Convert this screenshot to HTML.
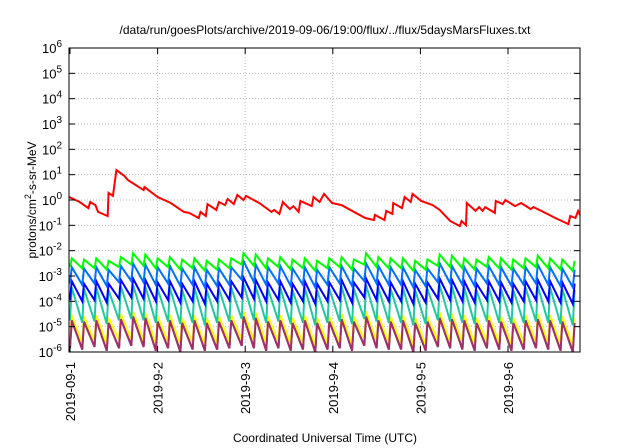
<!DOCTYPE html>
<html><head><meta charset="utf-8"><style>
html,body{margin:0;padding:0;background:#fff}
svg{display:block;font-family:"Liberation Sans",sans-serif}
</style></head><body>
<svg id="chart" width="640" height="448" viewBox="0 0 640 448">
<text x="325" y="34" font-size="12" text-anchor="middle">/data/run/goesPlots/archive/2019-09-06/19:00/flux/../flux/5daysMarsFluxes.txt</text>
<g id="grid"></g>
<g id="series"></g>
<rect x="69" y="48" width="511" height="304" fill="none" stroke="#000" stroke-width="1"/>
<g id="axes"></g>
<text transform="translate(36,200) rotate(-90)" font-size="12" text-anchor="middle">protons/cm<tspan dy="-5" font-size="9">2</tspan><tspan dy="5">-s-sr-MeV</tspan></text>
<text x="325" y="442" font-size="12" text-anchor="middle">Coordinated Universal Time (UTC)</text>
</svg>
<script>
const xTickLabels = ["2019-09-1","2019-9-2","2019-9-3","2019-9-4","2019-9-5","2019-9-6"];
const yTickExps = [6,5,4,3,2,1,0,-1,-2,-3,-4,-5,-6];
// red series: time (days) and log10 flux
const redDays = [-0.01,0.11,0.21,0.23,0.29,0.32,0.43,0.44,0.49,0.53,0.62,0.66,0.84,0.85,1.0,1.15,1.30,1.36,1.47,1.49,1.55,1.57,1.67,1.70,1.77,1.80,1.87,1.91,1.98,2.01,2.16,2.30,2.33,2.39,2.43,2.51,2.55,2.61,2.63,2.76,2.78,2.85,2.90,2.99,3.10,3.37,3.47,3.48,3.59,3.61,3.68,3.69,3.79,3.82,3.89,3.91,4.01,4.14,4.22,4.34,4.45,4.47,4.52,4.53,4.63,4.67,4.71,4.74,4.85,4.86,4.94,4.97,5.08,5.15,5.26,5.29,5.38,5.54,5.69,5.71,5.77,5.80,5.86];
const redLog = [0.12,-0.08,-0.32,-0.08,-0.20,-0.47,-0.63,0.28,0.16,1.18,0.95,0.79,0.39,0.51,0.12,-0.12,-0.47,-0.51,-0.71,-0.47,-0.63,-0.16,-0.39,-0.08,-0.20,0.04,-0.16,0.20,0.0,0.16,-0.12,-0.47,-0.39,-0.55,-0.08,-0.36,-0.24,-0.47,-0.04,-0.24,0.12,-0.08,0.24,-0.12,-0.20,-0.71,-0.79,-0.59,-0.79,-0.43,-0.55,-0.12,-0.32,0.12,-0.08,0.24,-0.04,-0.20,-0.39,-0.83,-1.03,-0.83,-0.99,-0.12,-0.43,-0.28,-0.43,-0.28,-0.51,-0.04,-0.16,0.0,-0.24,-0.12,-0.36,-0.28,-0.43,-0.71,-0.95,-0.63,-0.71,-0.43,-0.59];
// sawtooth series: one tooth every ~0.14 day; peak and trough log10 flux
const toothStep = 0.14;
const greenPeak = [-2.30,-2.35,-2.30,-2.40,-2.25,-2.10,-2.15,-2.30,-2.25,-2.35,-2.30,-2.40,-2.35,-2.30,-2.10,-2.15,-2.30,-2.25,-2.35,-2.30,-2.40,-2.30,-2.25,-2.35,-2.10,-2.25,-2.30,-2.30,-2.40,-2.35,-2.15,-2.20,-2.30,-2.35,-2.25,-2.30,-2.35,-2.30,-2.20,-2.30,-2.35,-2.40];
const greenTrough = [-2.65,-2.70,-2.70,-2.75,-2.65,-2.55,-2.60,-2.70,-2.65,-2.75,-2.70,-2.80,-2.75,-2.70,-2.55,-2.60,-2.70,-2.65,-2.75,-2.70,-2.80,-2.70,-2.65,-2.75,-2.55,-2.65,-2.70,-2.70,-2.80,-2.75,-2.60,-2.65,-2.70,-2.75,-2.65,-2.70,-2.75,-2.70,-2.65,-2.70,-2.75,-2.80];
const lblueP = [-2.65,-2.70,-2.65,-2.75,-2.60,-2.50,-2.55,-2.65,-2.60,-2.70,-2.65,-2.75,-2.70,-2.65,-2.40,-2.55,-2.65,-2.60,-2.70,-2.65,-2.75,-2.65,-2.60,-2.70,-2.50,-2.60,-2.65,-2.65,-2.75,-2.70,-2.50,-2.60,-2.65,-2.70,-2.60,-2.65,-2.70,-2.65,-2.55,-2.65,-2.70,-2.75];
const lblueT = [-3.30,-3.35,-3.30,-3.40,-3.25,-3.20,-3.25,-3.35,-3.30,-3.40,-3.35,-3.45,-3.40,-3.35,-3.15,-3.25,-3.35,-3.30,-3.40,-3.35,-3.45,-3.35,-3.30,-3.40,-3.20,-3.30,-3.35,-3.35,-3.45,-3.40,-3.25,-3.30,-3.35,-3.40,-3.30,-3.35,-3.40,-3.35,-3.30,-3.35,-3.40,-3.45];
const blueP = [-3.20,-3.30,-3.20,-3.30,-3.15,-3.10,-3.15,-3.25,-3.20,-3.30,-3.20,-3.30,-3.25,-3.20,-3.05,-3.15,-3.25,-3.20,-3.30,-3.20,-3.30,-3.25,-3.15,-3.25,-3.10,-3.20,-3.25,-3.20,-3.30,-3.25,-3.10,-3.15,-3.20,-3.30,-3.20,-3.25,-3.30,-3.20,-3.15,-3.20,-3.25,-3.30];
const blueT = [-3.95,-4.00,-3.95,-4.05,-3.90,-3.85,-3.90,-4.00,-3.95,-4.05,-4.00,-4.10,-4.00,-3.95,-3.85,-3.90,-4.00,-3.95,-4.05,-4.00,-4.10,-4.00,-3.95,-4.05,-3.85,-3.95,-4.00,-4.00,-4.10,-4.05,-3.90,-3.95,-4.00,-4.05,-3.95,-4.00,-4.05,-4.00,-3.95,-4.00,-4.05,-4.10];
const tealP = [-3.45,-3.50,-3.45,-3.55,-3.40,-3.35,-3.40,-3.50,-3.45,-3.55,-3.45,-3.55,-3.50,-3.45,-3.30,-3.40,-3.50,-3.45,-3.55,-3.45,-3.55,-3.50,-3.40,-3.50,-3.35,-3.45,-3.50,-3.45,-3.55,-3.50,-3.35,-3.40,-3.45,-3.55,-3.45,-3.50,-3.55,-3.45,-3.40,-3.45,-3.50,-3.55];
const tealT = [-4.75,-4.85,-4.80,-4.90,-4.75,-4.70,-4.75,-4.85,-4.80,-4.90,-4.85,-4.95,-4.85,-4.80,-4.70,-4.75,-4.85,-4.80,-4.90,-4.85,-4.95,-4.85,-4.80,-4.90,-4.70,-4.80,-4.85,-4.85,-4.95,-4.90,-4.75,-4.80,-4.85,-4.90,-4.80,-4.85,-4.90,-4.85,-4.80,-4.85,-4.90,-4.95];
const yellowP = [-4.55,-4.60,-4.55,-4.65,-4.50,-4.40,-4.45,-4.60,-4.55,-4.65,-4.55,-4.65,-4.60,-4.55,-4.40,-4.45,-4.60,-4.55,-4.65,-4.55,-4.65,-4.60,-4.50,-4.60,-4.40,-4.55,-4.60,-4.55,-4.65,-4.60,-4.45,-4.50,-4.55,-4.65,-4.55,-4.60,-4.65,-4.55,-4.50,-4.55,-4.60,-4.65];
const yellowT = [-5.55,-5.65,-5.60,-5.70,-5.55,-5.50,-5.55,-5.65,-5.60,-5.70,-5.65,-5.75,-5.65,-5.60,-5.50,-5.55,-5.65,-5.60,-5.70,-5.65,-5.75,-5.65,-5.60,-5.70,-5.50,-5.60,-5.65,-5.65,-5.75,-5.70,-5.55,-5.60,-5.65,-5.70,-5.60,-5.65,-5.70,-5.65,-5.60,-5.65,-5.70,-5.75];
const purpleP = [-4.75,-4.80,-4.75,-4.85,-4.70,-4.60,-4.65,-4.80,-4.75,-4.85,-4.75,-4.85,-4.80,-4.75,-4.60,-4.65,-4.80,-4.75,-4.85,-4.75,-4.85,-4.80,-4.70,-4.80,-4.60,-4.75,-4.80,-4.75,-4.85,-4.80,-4.65,-4.70,-4.75,-4.85,-4.75,-4.80,-4.85,-4.75,-4.70,-4.75,-4.80,-4.85];
const purpleT = [-5.85,-5.90,-5.80,-5.95,-5.85,-5.75,-5.80,-5.95,-5.85,-6.00,-5.90,-5.95,-5.90,-5.85,-5.75,-5.85,-5.95,-5.85,-5.95,-5.90,-6.00,-5.90,-5.85,-5.95,-5.75,-5.85,-5.90,-5.90,-6.00,-5.95,-5.80,-5.85,-5.90,-5.95,-5.85,-5.90,-5.95,-5.90,-5.85,-5.90,-5.95,-6.00];

const NS="http://www.w3.org/2000/svg";
const X0=70, PXDAY=87.6, YTOP=48, YBOT=352, XL=69, XR=580;
function xs(d){return X0+d*PXDAY;}
function ys(l){return YBOT-(l+6)*(YBOT-YTOP)/12;}
function mk(tag,attrs,parent){const e=document.createElementNS(NS,tag);for(const k in attrs)e.setAttribute(k,attrs[k]);parent.appendChild(e);return e;}
const grid=document.getElementById('grid'), axes=document.getElementById('axes'), ser=document.getElementById('series');
yTickExps.forEach(function(ex){
  const y=ys(ex);
  if(ex>-6&&ex<6){const g=mk('line',{x1:XL,x2:XR,y1:y,y2:y,stroke:'#bbb','stroke-dasharray':'1,2','stroke-width':1},grid);
  
  }
  const t1=mk('line',{x1:XL,x2:XL+6,y1:y,y2:y,stroke:'#000'},axes);
  
  
  const t2=mk('line',{x1:XR-6,x2:XR,y1:y,y2:y,stroke:'#000'},axes);
  
  
  const tx=mk('text',{x:62,y:y+5,'font-size':13,'text-anchor':'end'},axes);
  
  
  const a=document.createElementNS(NS,'tspan');a.textContent='10';tx.appendChild(a);
  const b=document.createElementNS(NS,'tspan');b.setAttribute('dy','-6');b.setAttribute('font-size','10');b.textContent=String(ex);tx.appendChild(b);
});
xTickLabels.forEach(function(lab,i){
  const x=xs(i);
  if(i>0){const g=mk('line',{x1:x,x2:x,y1:YTOP,y2:YBOT,stroke:'#bbb','stroke-dasharray':'1,2'},grid);
  
  }
  const t=mk('line',{x1:x,x2:x,y1:YBOT-6,y2:YBOT,stroke:'#000'},axes);
  
  
  const t2=mk('line',{x1:x,x2:x,y1:YTOP,y2:YTOP+6,stroke:'#000'},axes);
  
  
  const tx=mk('text',{transform:'translate('+(x+5)+','+(YBOT+10)+') rotate(-90)','font-size':13,'text-anchor':'end'},axes);
  
  
  tx.textContent=lab;
});
function clipX(x){return Math.max(XL,Math.min(XR,x));}
function saw(peaks,troughs,color,name){
  let pts=[];
  for(let i=0;i<peaks.length;i++){
    const t=i*toothStep;
    pts.push(clipX(xs(t))+','+ys(troughs[i]).toFixed(1));
    pts.push(clipX(xs(t+0.02))+','+ys(peaks[i]).toFixed(1));
  }
  const p=mk('polyline',{points:pts.join(' '),fill:'none',stroke:color,'stroke-width':2,'stroke-linejoin':'miter'},ser);
  
  
}
saw(purpleP,purpleT,'#a0306a','series-purple');
saw(yellowP,yellowT,'#ffff00','series-yellow');
saw(purpleP,purpleT,'#a0306a','series-purple-overlay');
saw(tealP,tealT,'#20c8a0','series-teal');
saw(blueP,blueT,'#0000ff','series-blue');
saw(lblueP,lblueT,'#0070ff','series-lightblue');
saw(greenPeak,greenTrough,'#00ff00','series-green');
const rp=redDays.map(function(d,i){return clipX(xs(d))+','+ys(redLog[i]).toFixed(1);}).join(' ');
const red=mk('polyline',{points:rp,fill:'none',stroke:'#ff0000','stroke-width':2},ser);


</script>
</body></html>
